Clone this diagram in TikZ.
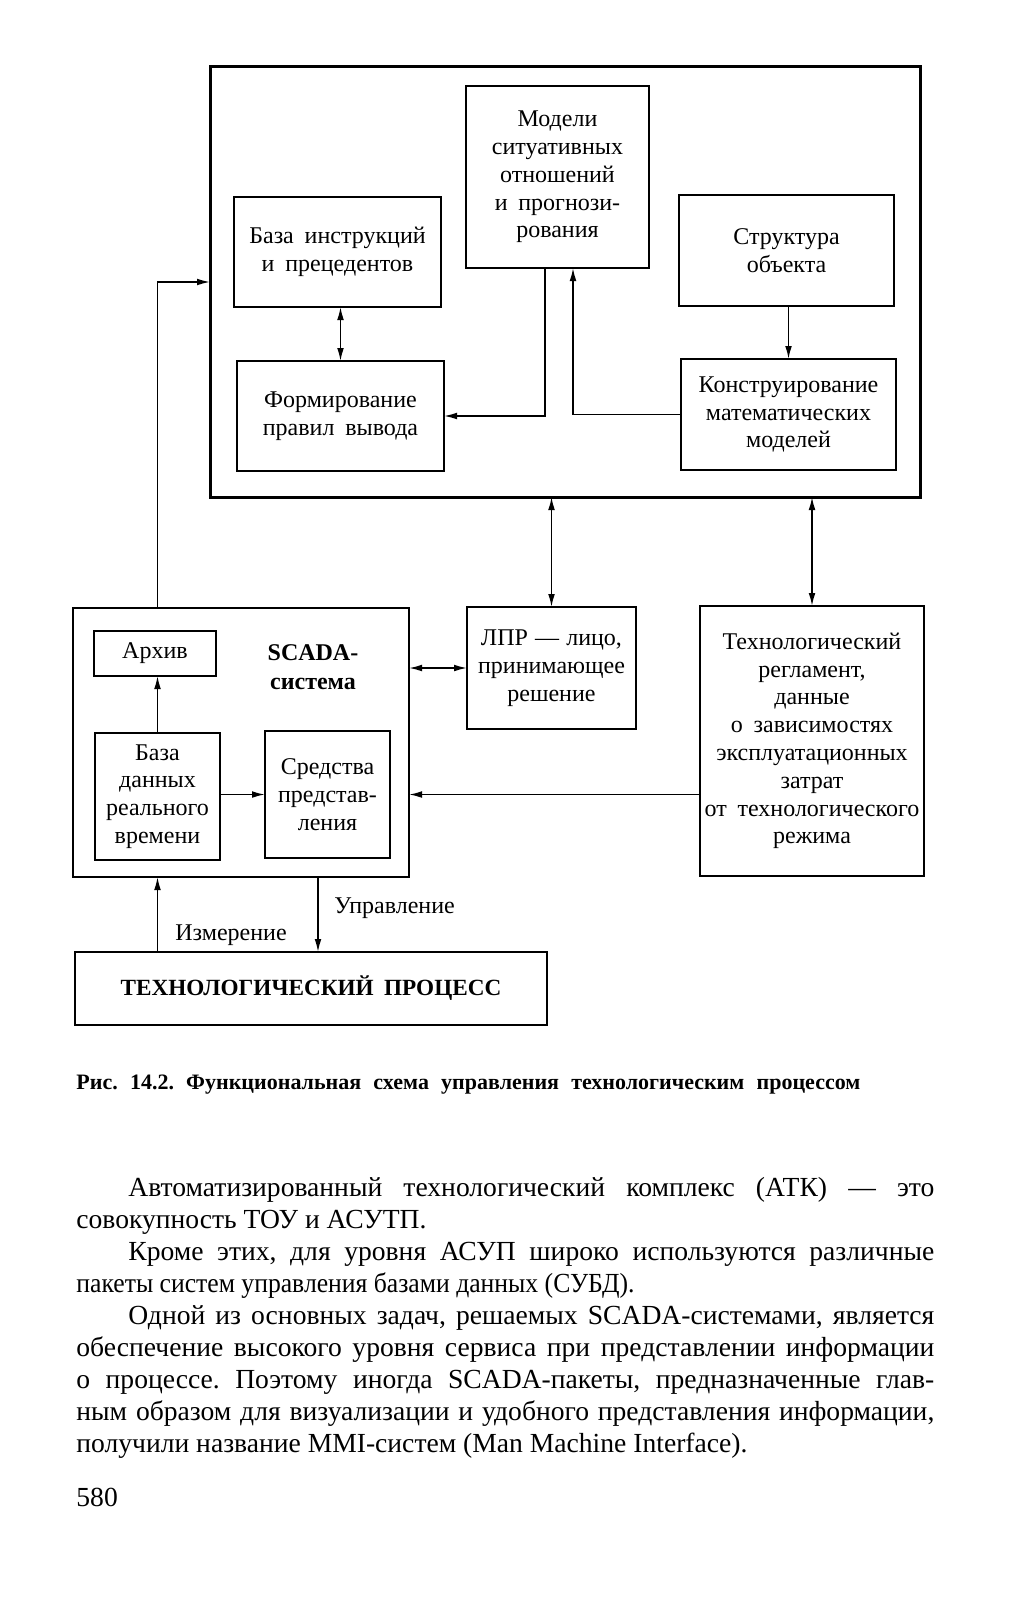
\documentclass[tikz,border=0pt]{standalone}
\usepackage{fontspec}
\setmainfont{Liberation Serif}
\usetikzlibrary{arrows.meta}
\frenchspacing
\newcommand\dfont{\fontsize{12}{13.9}\selectfont\spaceskip=0.45em plus 0.1em minus 0.05em\relax}
\newcommand\dbfont{\fontsize{12}{14.5}\selectfont\bfseries}
\newcommand\pfont{\fontsize{11.6}{14}\selectfont\bfseries\spaceskip=0.45em plus 0.1em minus 0.05em\relax}
\newcommand\bodyfont{\fontsize{13.8}{16}\selectfont}
\begin{document}
\begin{tikzpicture}[x=0.5pt,y=-0.5pt,
  box/.style={draw,line width=1.2pt,inner sep=0pt,outer sep=0pt,align=center,font=\dfont,anchor=north west},
  conn/.style={line width=0.8pt,-{Latex[length=6.5pt,width=3.4pt]}},
  dconn/.style={line width=0.8pt,{Latex[length=6.5pt,width=3.4pt]}-{Latex[length=6.5pt,width=3.4pt]}},
  lbl/.style={inner sep=0pt,font=\dfont},
  bodyline/.style={anchor=base west,inner sep=0pt,font=\bodyfont}]
\useasboundingbox[fill=white] (0,0) rectangle (1013,1600);

% upper block
\node[box,line width=1.5pt,minimum width=355pt,minimum height=215pt] (outer) at (210,67) {};
\node[box,minimum width=91.5pt,minimum height=91pt] (models) at (466,86)
  {Модели\\ситуативных\\отношений\\и прогнози-\\рования};
\node[box,minimum width=103.5pt,minimum height=55pt] (baza) at (234,197)
  {База инструкций\\и прецедентов};
\node[box,minimum width=103.5pt,minimum height=55pt] (form) at (237,361)
  {Формирование\\правил вывода};
\node[box,minimum width=107.5pt,minimum height=55.5pt] (struct) at (679,195)
  {Структура\\объекта};
\node[box,minimum width=107.5pt,minimum height=55.5pt] (konstr) at (681,359)
  {Конструирование\\математических\\моделей};

% middle
\node[box,minimum width=168pt,minimum height=134.5pt] (scada) at (73,608) {};
\node[box,minimum width=61pt,minimum height=22.5pt] (archive) at (94,631) {Архив};
\node[lbl,font=\dbfont,align=center] (scadalbl) at (313,667) {SCADA-\\система};
\node[box,minimum width=62.5pt,minimum height=63.5pt] (bd) at (95,733)
  {База\\данных\\реального\\времени};
\node[box,minimum width=62.5pt,minimum height=63.5pt] (sred) at (265,731)
  {Средства\\представ-\\ления};
\node[box,minimum width=84.5pt,minimum height=61pt] (lpr) at (467,607)
  {ЛПР\hspace{0.3em}—\hspace{0.3em}лицо,\\принимающее\\решение};
\node[box,minimum width=112pt,minimum height=135pt] (treg) at (700,606)
  {Технологический\\регламент,\\данные\\о зависимостях\\эксплуатационных\\затрат\\от технологического\\режима};

% bottom
\node[box,font=\pfont,minimum width=236pt,minimum height=36.5pt] (proc) at (75,952)
  {ТЕХНОЛОГИЧЕСКИЙ ПРОЦЕСС};
\coordinate (upr) at ([xshift=38.5pt]scada.south);
\node[lbl,anchor=base west] (izm) at (175,940) {Измерение};
\node[lbl,anchor=base west] (uprlbl) at (334,913) {Управление};

% connectors
\draw[dconn] (baza.south -| form.north) -- (form.north);
\draw[conn] (konstr.north |- struct.south) -- (konstr.north);
\draw[conn] ([xshift=-6.25pt]models.south) |- (form.east);
\draw[conn] (konstr.west) -| ([xshift=7.75pt]models.south);
\draw[conn] (bd.north |- scada.north) |- (outer.west);
\draw[dconn] (lpr.north |- outer.south) -- (lpr.north);
\draw[dconn] (treg.north |- outer.south) -- (treg.north);
\draw[dconn] (scada.east |- lpr.west) -- (lpr.west);
\draw[conn] (treg.west |- sred.east) -- (scada.east |- sred.east);
\draw[conn] (bd.east |- sred.east) -- (sred.west);
\draw[conn] (bd.north) -- (bd.north |- archive.south);
\draw[conn] (bd.south |- proc.north) -- (bd.south |- scada.south);
\draw[conn] (upr) -- (upr |- proc.north);

% caption
\node[anchor=base west,inner sep=0pt,font=\fontsize{11}{12}\selectfont\bfseries] (caption) at (76,1089)
  {\makebox[392pt][s]{Рис. 14.2. Функциональная схема управления технологическим процессом}};

% body text
\node[bodyline] (l1) at (128,1196) {\makebox[403pt][s]{Автоматизированный технологический комплекс (АТК) — это}};
\node[bodyline] (l2) at (76,1228) {совокупность ТОУ и АСУТП.};
\node[bodyline] (l3) at (128,1260) {\makebox[403pt][s]{Кроме этих, для уровня АСУП широко используются различные}};
\node[bodyline] (l4) at (76,1292) {\scalebox{0.93}[1]{пакеты систем управления базами данных (СУБД).}};
\node[bodyline] (l5) at (128,1324) {\makebox[403pt][s]{Одной из основных задач, решаемых SCADA-системами, является}};
\node[bodyline] (l6) at (76,1356) {\makebox[429pt][s]{обеспечение высокого уровня сервиса при представлении информации}};
\node[bodyline] (l7) at (76,1388) {\makebox[429pt][s]{о процессе. Поэтому иногда SCADA-пакеты, предназначенные глав-}};
\node[bodyline] (l8) at (76,1420) {\makebox[429pt][s]{ным образом для визуализации и удобного представления информации,}};
\node[bodyline] (l9) at (76,1452) {получили название MMI-систем (Man Machine Interface).};
\node[bodyline] (page) at (76,1506) {580};
\end{tikzpicture}
\end{document}
